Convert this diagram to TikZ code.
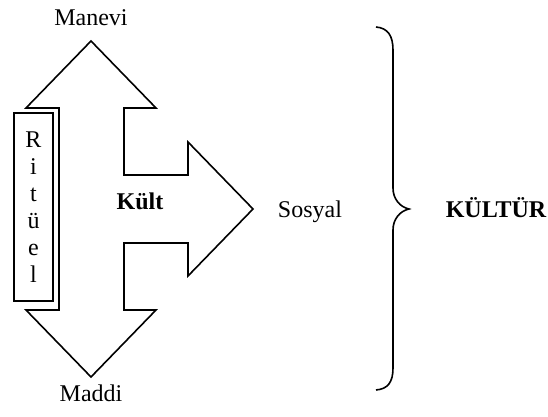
\documentclass[tikz,border=0pt]{standalone}
\usepackage{fontspec}
\setmainfont{Liberation Serif}

\begin{document}
\begin{tikzpicture}[x=0.5pt,y=-0.5pt,line width=0.8pt,
    lbl/.style={font=\fontsize{12}{14}\selectfont, anchor=base},
    boldlbl/.style={lbl, font=\fontsize{12}{14}\selectfont\bfseries}]
    \useasboundingbox (0,0) rectangle (548,417);
    % three-way arrow
    \draw[line join=miter] (91,41) -- (156,108) -- (124,108) -- (124,175)
        -- (188,175) -- (188,142) -- (253,209) -- (188,276) -- (188,243)
        -- (124,243) -- (124,310) -- (156,310) -- (91,377) -- (26,310)
        -- (59,310) -- (59,108) -- (26,108) -- cycle;
    \node[lbl] (manevi) at (91,26) {Manevi};
    \node[lbl] (maddi) at (91,402) {Maddi};
    \node[boldlbl] (kult) at (140,210) {Kült};
    \node[lbl] (sosyal) at (310,218) {Sosyal};
    % ritual box
    \node[draw, minimum width=19.5pt, minimum height=94pt, inner sep=0pt,
        align=center, font=\fontsize{12}{13.5}\selectfont] (rituel) at (33.5,207) {R\\i\\t\\ü\\e\\l};
    % brace
    \draw (376,27) .. controls (388,28) and (393,36) .. (393,50) -- (393,188)
        .. controls (393,199) and (400,207) .. (409,209)
        .. controls (400,211) and (393,219) .. (393,230) -- (393,368)
        .. controls (393,382) and (388,389) .. (376,390);
    \node[boldlbl] (kultur) at (496,218) {KÜLTÜR};
\end{tikzpicture}
\end{document}
